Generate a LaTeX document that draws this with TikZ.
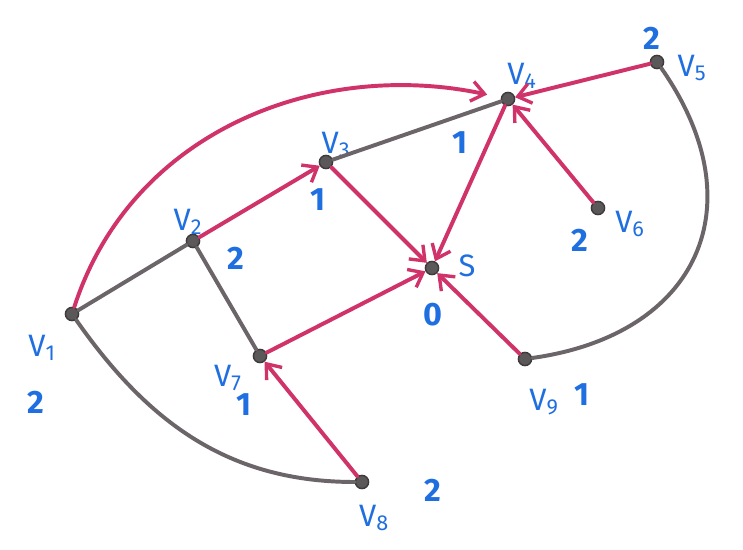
\documentclass[tikz,border=0pt]{standalone}
\usepackage{fontspec}
\setmainfont{Fira Sans}
\usetikzlibrary{arrows.meta}
\definecolor{penred}{HTML}{D0336A}
\definecolor{pengray}{HTML}{6B6468}
\definecolor{penblue}{HTML}{1F6FE0}
\definecolor{dotgray}{HTML}{3E3A3C}
\tikzset{
  vertex/.style={
    circle,
    draw=dotgray,
    fill=dotgray!85,
    line width=1pt,
    minimum size=0.33cm,
    inner sep=0pt
  },
  plain/.style={
    draw=pengray,
    line width=2.8pt,
    line cap=round
  },
  directed/.style={
    draw=penred,
    line width=2.8pt,
    line cap=round,
    -{Straight Barb[length=3.2mm,width=5mm,line width=2.4pt]}
  },
  vname/.style={
    text=penblue,
    font=\fontsize{22}{26}\selectfont
  },
  dist/.style={
    text=penblue,
    font=\fontsize{23}{27}\selectfont\bfseries
  }
}

\begin{document}
\begin{tikzpicture}[x=0.025cm,y=-0.025cm]
    \path[use as bounding box, fill=white] (0,0) rectangle (743,550);
    % vertices
    \node[vertex] (v1) at (72,314) {};
    \node[vertex] (v2) at (193,241) {};
    \node[vertex] (v3) at (326,162) {};
    \node[vertex] (v4) at (508,99) {};
    \node[vertex] (v5) at (657,62) {};
    \node[vertex] (v6) at (598,208) {};
    \node[vertex] (s) at (432,268) {};
    \node[vertex] (v7) at (260,356) {};
    \node[vertex] (v8) at (362,482) {};
    \node[vertex] (v9) at (525,359) {};
    % names and distances
    \node[vname] (n1) at (42,348) {V\textsubscript{1}};
    \node[dist] (d1) at (36,402) {2};
    \node[vname] (n2) at (188,222) {V\textsubscript{2}};
    \node[dist] (d2) at (236,258) {2};
    \node[vname] (n3) at (336,145) {V\textsubscript{3}};
    \node[dist] (d3) at (318,200) {1};
    \node[vname] (n4) at (522,76) {V\textsubscript{4}};
    \node[dist] (d4) at (460,143) {1};
    \node[vname] (n5) at (692,68) {V\textsubscript{5}};
    \node[dist] (d5) at (652,38) {2};
    \node[vname] (n6) at (630,224) {V\textsubscript{6}};
    \node[dist] (d6) at (580,240) {2};
    \node[vname] (ns) at (467,266) {S};
    \node[dist] (ds) at (433,315) {0};
    \node[vname] (n7) at (228,378) {V\textsubscript{7}};
    \node[dist] (d7) at (244,405) {1};
    \node[vname] (n8) at (374,518) {V\textsubscript{8}};
    \node[dist] (d8) at (433,490) {2};
    \node[vname] (n9) at (544,402) {V\textsubscript{9}};
    \node[dist] (d9) at (582,395) {1};
    % undirected edges
    \foreach \a/\b in {v1/v2,v2/v7,v3/v4}
      \draw[plain] (\a) -- (\b);
    \draw[plain] (v1) to[out=-55,in=180] (v8);
    \draw[plain] (v5) to[out=-55,in=8,looseness=1.35] (v9);
    % shortest path tree
    \foreach \a/\b in {v2/v3,v3/s,v4/s,v5/v4,v6/v4,v7/s,v9/s,v8/v7}
      \draw[directed] (\a) -- (\b);
    \draw[directed, shorten >=0.35cm] (v1) to[out=72,in=168] (v4);
\end{tikzpicture}
\end{document}
